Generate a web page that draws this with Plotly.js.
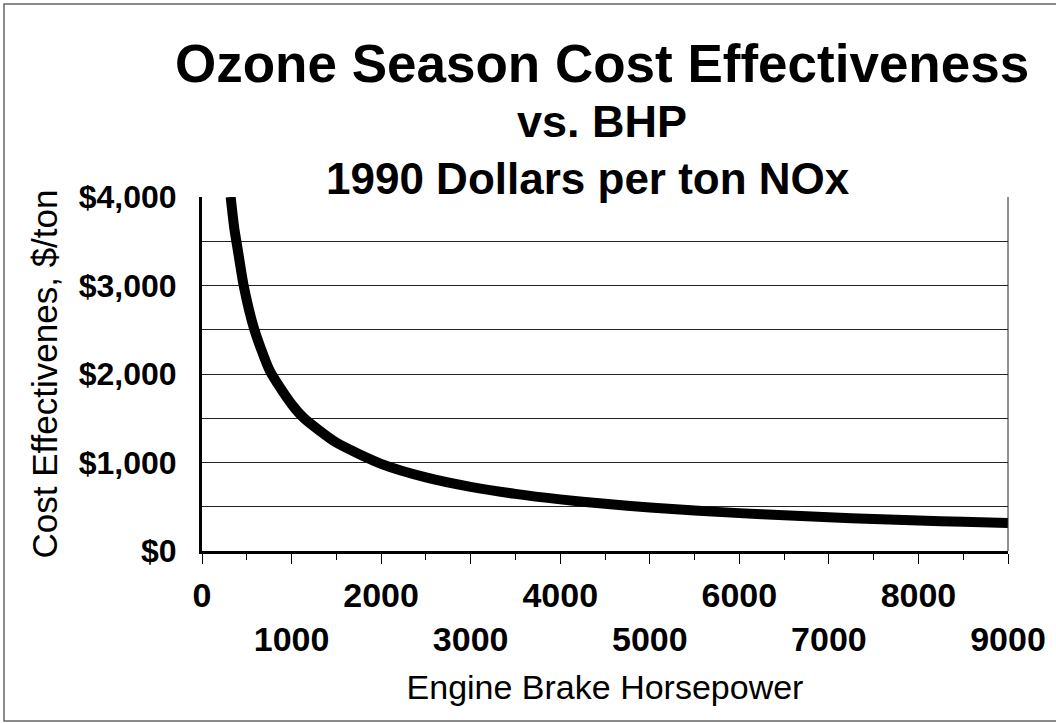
<!DOCTYPE html>
<html>
<head>
<meta charset="utf-8">
<script src="https://cdn.plot.ly/plotly-3.0.1.min.js"></script>
<style>
html,body{margin:0;padding:0;background:#fff;}
#chart{width:1056px;height:723px;}
</style>
</head>
<body>
<div id="chart"></div>
<script>
// Engine brake horsepower (x) and cost effectiveness, 1990 $/ton NOx (y)
const bhp = [320, 360, 400, 465, 585, 760, 1000, 1140, 1500, 2000, 2500, 3000, 3500, 4000, 4500, 5000, 5500, 6000, 6500, 7000, 7500, 8000, 8500, 9000];
const costPerTon = [4000, 3650, 3400, 3000, 2500, 2030, 1660, 1500, 1225, 985, 832, 725, 645, 583, 533, 492, 457, 428, 403, 381, 362, 345, 330, 316];

const xTickVals = [0, 1000, 2000, 3000, 4000, 5000, 6000, 7000, 8000, 9000];
const xTickText = ["0", "<br>1000", "2000", "<br>3000", "4000", "<br>5000", "6000", "<br>7000", "8000", "<br>9000"];
const yTickVals = [0, 1000, 2000, 3000, 4000];
const yTickText = ["$0", "$1,000", "$2,000", "$3,000", "$4,000"];

const titleLines = ["Ozone Season Cost Effectiveness", "vs. BHP", "1990 Dollars per ton NOx"];
const xTitle = "Engine Brake Horsepower";
const yTitle = "Cost Effectivenes, $/ton";

const F = '"Liberation Sans", Arial, Helvetica, sans-serif';

const trace = {
  x: bhp, y: costPerTon, type: 'scatter', mode: 'lines',
  line: {color: '#000', width: 10, shape: 'spline', smoothing: 0.6},
  hoverinfo: 'skip', showlegend: false
};

// plot area in pixels: x 202..1008, y 197..551
const py = p => (551 - p) / 354;
const px = p => (p - 202) / 806;

const layout = {
  width: 1056, height: 723,
  margin: {l: 202, r: 48, t: 197, b: 172},
  paper_bgcolor: '#fff', plot_bgcolor: '#fff',
  font: {family: F, color: '#000'},
  showlegend: false,
  xaxis: {
    range: [0, 9000], tickmode: 'array', tickvals: xTickVals, ticktext: xTickText,
    tickfont: {family: F, size: 34, color: '#000', weight: 'bold'},
    ticks: 'outside', ticklen: 10, tickwidth: 1, tickcolor: '#000',
    minor: {dtick: 500, tick0: 0, ticks: 'outside', ticklen: 6, tickwidth: 1, tickcolor: '#000', showgrid: false},
    showgrid: false, zeroline: false,
    showline: true, linecolor: '#000', linewidth: 3, mirror: false,
    ticklabelstandoff: 2,
    title: {text: xTitle, font: {family: F, size: 34, color: '#000'}, standoff: 19}
  },
  yaxis: {
    range: [0, 4000], tickmode: 'array', tickvals: yTickVals, ticktext: yTickText,
    tickfont: {family: F, size: 32, color: '#000', weight: 'bold'},
    ticks: '', showgrid: true, gridcolor: '#222', gridwidth: 1,
    minor: {dtick: 500, tick0: 0, showgrid: true, gridcolor: '#222', gridwidth: 1},
    zeroline: false, showline: true, linecolor: '#000', linewidth: 3,
    ticklabelstandoff: 16,
    title: {text: yTitle, font: {family: F, size: 35, color: '#000'}, standoff: 11}
  },
  shapes: [
    {type: 'line', xref: 'paper', yref: 'paper', x0: 1, x1: 1, y0: 0, y1: 1, line: {color: '#222', width: 1}},
    {type: 'rect', xref: 'paper', yref: 'paper', x0: px(4), x1: px(1060), y0: py(721), y1: py(4), line: {color: '#666', width: 1.5}, layer: 'below'}
  ],
  annotations: [
    {text: '<b>' + titleLines[0] + '</b>', xref: 'paper', yref: 'paper', x: px(602), y: py(63), xanchor: 'center', yanchor: 'middle', showarrow: false, font: {family: F, size: 53, color: '#000'}},
    {text: '<b>' + titleLines[1] + '</b>', xref: 'paper', yref: 'paper', x: px(602), y: py(122), xanchor: 'center', yanchor: 'middle', showarrow: false, font: {family: F, size: 45, color: '#000'}},
    {text: '<b>' + titleLines[2] + '</b>', xref: 'paper', yref: 'paper', x: px(588), y: py(178), xanchor: 'center', yanchor: 'middle', showarrow: false, font: {family: F, size: 44, color: '#000'}}
  ]
};

Plotly.newPlot('chart', [trace], layout, {displayModeBar: false, staticPlot: true});
</script>
</body>
</html>
